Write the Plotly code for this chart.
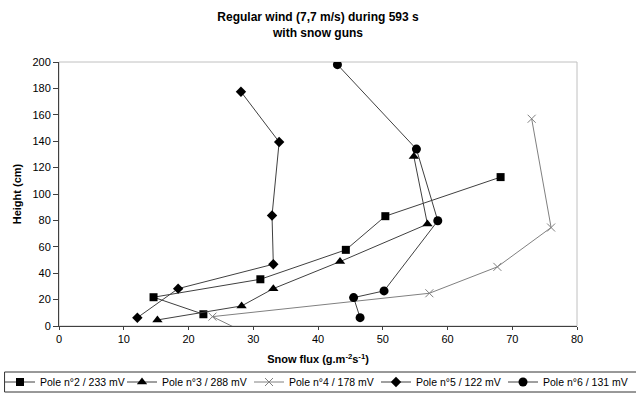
import plotly.graph_objects as go

# Data (snow flux g.m-2.s-1, height cm)
pole2_x = [68.2, 50.4, 44.3, 31.1, 14.6, 22.3]
pole2_y = [112.8, 83.2, 57.7, 35.4, 21.8, 8.9]

pole3_x = [54.8, 56.9, 43.4, 33.1, 28.2, 15.2]
pole3_y = [128.5, 77.2, 48.8, 28.3, 15.2, 4.6]

pole4_x = [73.0, 76.0, 67.7, 57.2, 23.7, 30.0]
pole4_y = [157.0, 74.6, 44.8, 24.8, 7.1, -8.0]

pole5_x = [28.1, 34.0, 32.9, 33.1, 18.4, 12.1]
pole5_y = [177.5, 139.4, 83.7, 46.8, 28.3, 6.3]

pole6_x = [43.0, 55.2, 58.5, 50.2, 45.5, 46.5]
pole6_y = [198.0, 134.0, 79.7, 26.6, 21.5, 6.3]

names = ["Pole n°2 / 233 mV", "Pole n°3 / 288 mV", "Pole n°4 / 178 mV",
         "Pole n°5 / 122 mV", "Pole n°6 / 131 mV"]

FONT = "Liberation Sans, Arial, sans-serif"
dark = "#404040"

series = [
    (pole2_x, pole2_y, "square", 8, "black", dark),
    (pole3_x, pole3_y, "triangle-up", 9, "black", dark),
    (pole4_x, pole4_y, "x-thin", 8, "#808080", "#808080"),
    (pole5_x, pole5_y, "diamond", 8, "black", dark),
    (pole6_x, pole6_y, "circle", 9, "black", dark),
]

W, H = 636, 396
fig = go.Figure()
legend_cfg = {}
for i, ((xs, ys, sym, sz, mc, lc), nm) in enumerate(zip(series, names)):
    mk = dict(symbol=sym, size=sz, color=mc)
    if sym == "x-thin":
        mk["line"] = dict(color=mc, width=1)
    lname = "legend" if i == 0 else f"legend{i + 1}"
    fig.add_trace(go.Scatter(x=xs, y=ys, mode="lines+markers", name=nm,
                             legend=lname, marker=mk,
                             line=dict(color=lc, width=1)))
    legend_cfg[lname] = dict(
        xref="container", yref="container",
        x=(-5 + i * 127) / W, xanchor="left",
        y=1 - 382 / H, yanchor="middle",
        bgcolor="rgba(0,0,0,0)", borderwidth=0,
        font=dict(family=FONT, size=10.5, color="black"),
        orientation="h", itemwidth=30,
    )

# frame of plot area (top/right light grey)
fig.add_shape(type="rect", xref="paper", yref="paper", x0=0, y0=0, x1=1, y1=1,
              line=dict(color="#c0c0c0", width=1), layer="below")
# legend box
fig.add_shape(type="rect", xref="paper", yref="paper",
              x0=(4 - 58.5) / 518.5, x1=(640 - 58.5) / 518.5,
              y0=(326 - 392) / 264, y1=(326 - 372) / 264,
              line=dict(color="#333333", width=1), layer="below")

fig.update_layout(
    width=W, height=H,
    margin=dict(l=58.5, r=59, t=62, b=70, autoexpand=False),
    paper_bgcolor="white", plot_bgcolor="white",
    font=dict(family=FONT, size=11, color="black"),
    title=dict(text="<b>Regular wind (7,7 m/s) during 593 s<br>with snow guns</b>",
               x=0.5, xref="paper", xanchor="center",
               yref="container", y=1 - 21 / H, yanchor="middle",
               font=dict(family=FONT, size=12, color="black")),
    xaxis=dict(range=[0, 80], dtick=10, showline=True, linecolor=dark, linewidth=1,
               ticks="outside", ticklen=3, tickcolor=dark, showgrid=False, zeroline=False,
               tickfont=dict(size=11), automargin=False,
               title=dict(text="<b>Snow flux (g.m<sup>-2</sup>s<sup>-1</sup>)</b>",
                          font=dict(size=11), standoff=11)),
    yaxis=dict(range=[0, 200], dtick=20, showline=True, linecolor=dark, linewidth=1,
               ticks="outside", ticklen=5, tickcolor=dark, showgrid=False, zeroline=False,
               tickfont=dict(size=11), automargin=False,
               title=dict(text="<b>Height (cm)</b>", font=dict(size=11), standoff=8)),
    showlegend=True,
    **legend_cfg,
)

fig.write_html("out.html")
